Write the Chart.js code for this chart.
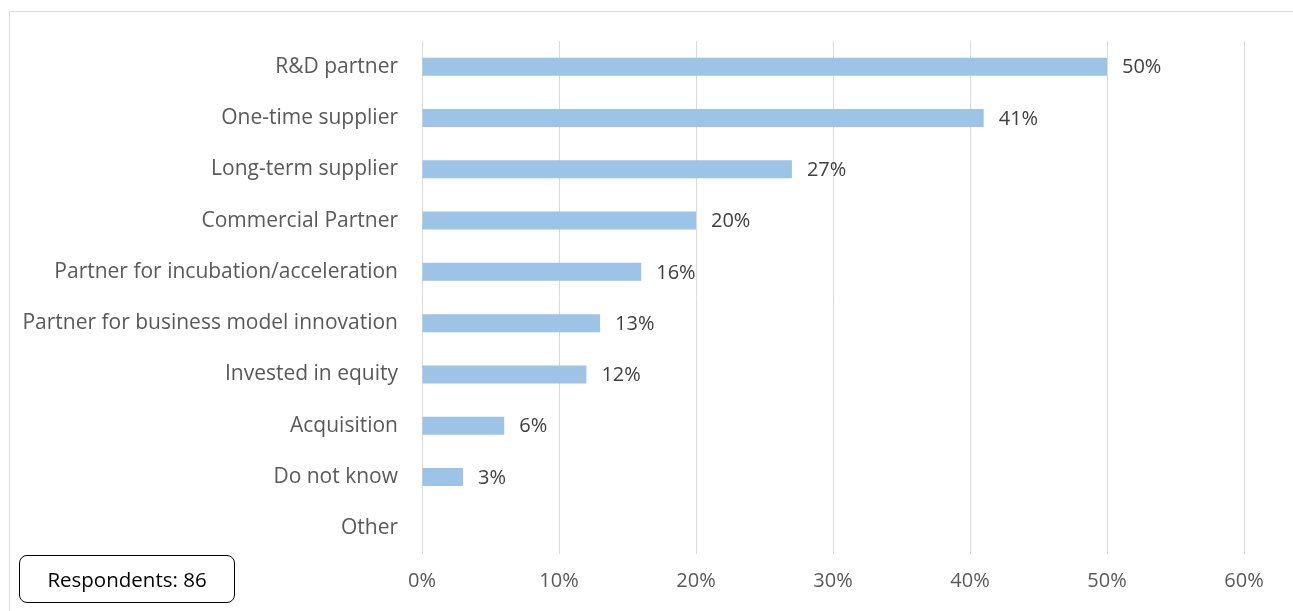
<!DOCTYPE html>
<html>
<head>
<meta charset="utf-8">
<script src="https://cdn.jsdelivr.net/npm/chart.js@4"></script>
<style>
  html, body { margin: 0; padding: 0; background: #fff; }
  #wrap { position: relative; width: 1293px; height: 611px; overflow: hidden; }
  #frame { position: absolute; left: 9px; top: 11px; width: 1400px; height: 700px;
           border-top: 1px solid #d9d9d9; border-left: 1px solid #d9d9d9; }
  #respondents { position: absolute; left: 19px; top: 555px; width: 216px; height: 48px;
                 border: 1.5px solid #000; border-radius: 8px; box-sizing: border-box;
                 font: 20.5px "Open Sans", sans-serif; color: #000;
                 display: flex; align-items: center; justify-content: center; }
  canvas { position: absolute; left: 0; top: 0; }
</style>
</head>
<body>
<div id="wrap">
  <div id="frame"></div>
  <canvas id="bar_chart" width="1293" height="611"></canvas>
  <div id="respondents">Respondents: 86</div>
</div>
<script>
var categories = ["R&D partner", "One-time supplier", "Long-term supplier", "Commercial Partner",
  "Partner for incubation/acceleration", "Partner for business model innovation",
  "Invested in equity", "Acquisition", "Do not know", "Other"];
var shares = [50, 41, 27, 20, 16, 13, 12, 6, 3, 0];
var xTicks = [0, 10, 20, 30, 40, 50, 60];

//Write the percentage just past the end of every bar
var valueLabels = {
  id: "valueLabels",
  afterDatasetsDraw: function(chart) {
    var ctx = chart.ctx;
    var meta = chart.getDatasetMeta(0);
    ctx.save();
    ctx.font = "20px 'Open Sans', sans-serif";
    ctx.fillStyle = "#404040";
    ctx.textBaseline = "middle";
    meta.data.forEach(function(bar, i) {
      var v = chart.data.datasets[0].data[i];
      if (!v) return;
      ctx.fillText(v + "%", bar.x + 15, bar.y + 1);
    });
    ctx.restore();
  }
};

var ctx = document.getElementById("bar_chart");
var chart = new Chart(ctx, {
  type: "bar",
  data: {
    labels: categories,
    datasets: [{ data: shares, backgroundColor: "#9dc3e6", barPercentage: 0.7, categoryPercentage: 0.5 }]
  },
  options: {
    indexAxis: "y",
    responsive: false,
    animation: false,
    layout: { padding: { left: 0, right: 49, top: 41, bottom: 0 } },
    plugins: { legend: { display: false }, tooltip: { enabled: false } },
    scales: {
      x: {
        min: 0, max: 60,
        afterBuildTicks: function(scale) { scale.ticks = xTicks.map(function(v) { return { value: v }; }); },
        afterFit: function(scale) { scale.height = 57; },
        grid: { color: "#d9d9d9", drawTicks: false },
        border: { display: false },
        ticks: { padding: 15, color: "#595959", font: { family: "Open Sans", size: 20 },
                 callback: function(v) { return v + "%"; } }
      },
      y: {
        afterFit: function(scale) { scale.width = 422; },
        grid: { display: false, drawTicks: false },
        border: { display: false },
        ticks: { padding: 24, color: "#595959", font: { family: "Open Sans", size: 21 } }
      }
    }
  },
  plugins: [valueLabels]
});
</script>
</body>
</html>
